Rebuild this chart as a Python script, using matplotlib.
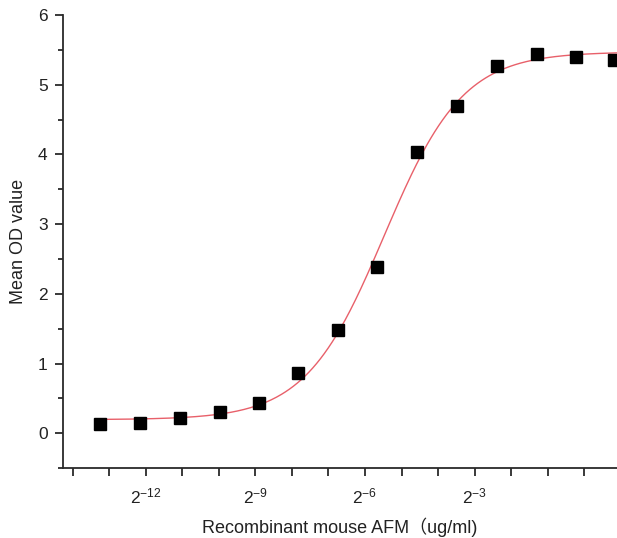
import numpy as np
import matplotlib
matplotlib.use("Agg")
import matplotlib.pyplot as plt
from matplotlib.ticker import FixedLocator, FuncFormatter, MultipleLocator

plt.rcParams['font.family'] = ['Liberation Sans', 'Noto Sans CJK SC', 'DejaVu Sans']
plt.rcParams['mathtext.fontset'] = 'custom'
plt.rcParams['mathtext.rm'] = 'Liberation Sans'

# concentration (ug/ml) and mean OD
conc = [0.000102, 0.000219, 0.000466, 0.00100, 0.00210, 0.00436, 0.00935,
        0.0196, 0.0418, 0.0897, 0.192, 0.409, 0.858, 1.765]
od = [0.13, 0.14, 0.22, 0.30, 0.44, 0.86, 1.48,
      2.38, 4.03, 4.69, 5.27, 5.44, 5.40, 5.35]

xtick_pows = list(range(-14, 1))
xlabel_pows = [-12, -9, -6, -3]


def logistic(lx, p):
    bottom, top, lx0, k = p
    return bottom + (top - bottom) / (1 + np.exp(-k * (lx - lx0)))


# simple Gauss-Newton fit of a 4-parameter logistic (like Origin's Logistic fit)
lx = np.log2(conc)
yy = np.array(od)
p = np.array([0.2, 5.4, -5.5, 1.0])
for it in range(100):
    r = yy - logistic(lx, p)
    J = np.zeros((len(lx), 4))
    for j in range(4):
        dp = np.zeros(4)
        dp[j] = 1e-6
        J[:, j] = (logistic(lx, p + dp) - logistic(lx, p)) / 1e-6
    step = np.linalg.lstsq(J, r, rcond=None)[0]
    p = p + 0.5 * step

# fitted curve over the data range only
xfit = np.linspace(lx.min(), lx.max() + 0.1, 400)
yfit = logistic(xfit, p)

fig = plt.figure(figsize=(6.17, 5.38), dpi=100)
ax = fig.add_axes([0.102, 0.130, 0.898, 0.842])

ax.plot(2.0 ** xfit, yfit, color="#e8606a", linewidth=1.0, zorder=2)
ax.plot(conc, od, "s", color="black", markersize=8, linestyle="none",
        zorder=3, clip_on=False)

ax.set_xscale("log", base=2)
ax.set_xlim(2.0 ** -14.27, 2.0 ** 0.90)
ax.set_ylim(-0.5, 6)

ax.xaxis.set_major_locator(FixedLocator([2.0 ** k for k in xtick_pows]))
ax.xaxis.set_minor_locator(FixedLocator([]))
ax.xaxis.set_major_formatter(FuncFormatter(
    lambda v, pos: r"$\mathregular{2^{%d}}$" % round(np.log2(v))
    if round(np.log2(v)) in xlabel_pows else ""))
ax.yaxis.set_major_locator(MultipleLocator(1))
ax.yaxis.set_minor_locator(MultipleLocator(0.5))

for s in ["top", "right"]:
    ax.spines[s].set_visible(False)
for s in ["left", "bottom"]:
    ax.spines[s].set_linewidth(1.3)
    ax.spines[s].set_color("#2a2a2a")

ax.tick_params(axis="both", which="major", direction="out", length=6,
               width=1.3, color="#2a2a2a", labelsize=12.5, labelcolor="#222222")
ax.tick_params(axis="y", which="minor", direction="out", length=3.5,
               width=1.3, color="#2a2a2a")
ax.tick_params(axis="x", which="major", pad=7)
ax.tick_params(axis="y", which="major", pad=5)

ax.set_xlabel("Recombinant mouse AFM（ug/ml)", fontsize=13, color="#222222",
              labelpad=8)
ax.set_ylabel("Mean OD value", fontsize=13, color="#222222", labelpad=8)

fig.savefig("out.png", dpi=100)
